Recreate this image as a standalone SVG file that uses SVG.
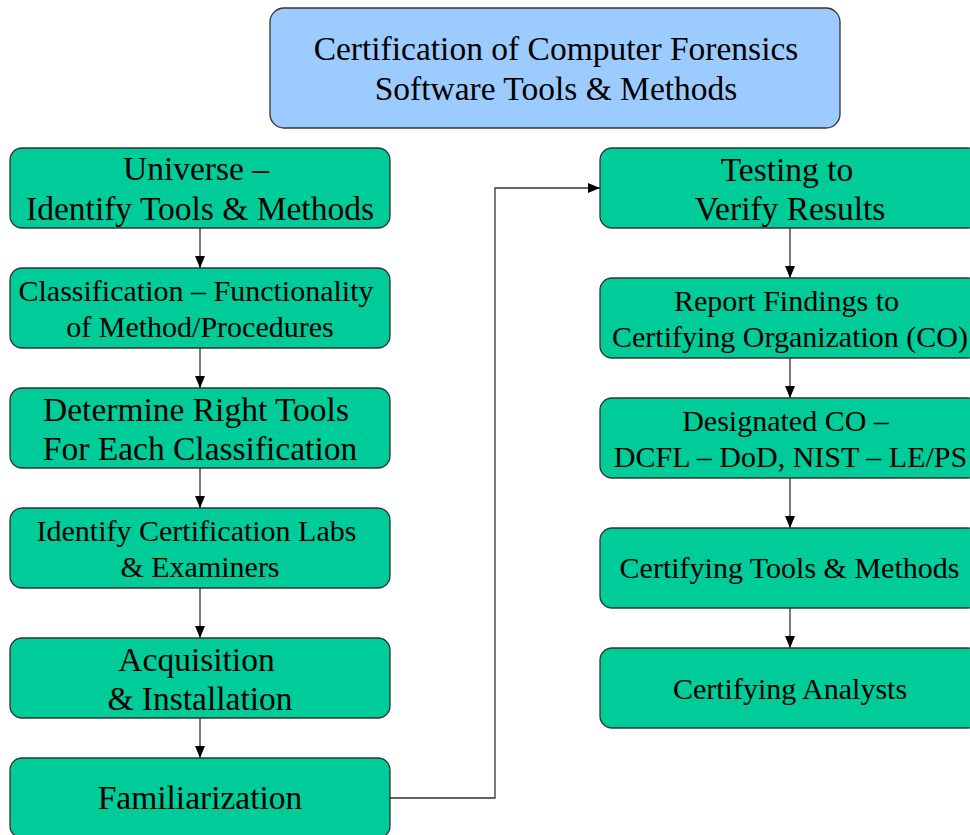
<svg xmlns="http://www.w3.org/2000/svg" width="970" height="835" viewBox="0 0 970 835">
<defs>
<marker id="ah" markerWidth="12" markerHeight="10" refX="12" refY="5" orient="auto" markerUnits="userSpaceOnUse">
<path d="M0,0 L12,5 L0,10 Z" fill="#000"/>
</marker>
<style>
.b{fill:#00CC99;stroke:#333;stroke-width:1.3}
.t{fill:#9CCCFF;stroke:#333;stroke-width:1.3}
text{font-family:"Liberation Serif","Times New Roman",serif;fill:#000;text-anchor:middle}
.L{font-size:33.5px}
.S{font-size:30px}
.c{fill:none;stroke:#333;stroke-width:1.3}
</style>
</defs>
<rect width="970" height="835" fill="#fff"/>
<g id="title"><rect class="t" x="270" y="8" width="570" height="120" rx="14"/>
<text class="L" x="556" y="60">Certification of Computer Forensics</text>
<text class="L" x="556" y="100">Software Tools &amp; Methods</text></g>
<g id="connectors">
<line class="c" x1="200" y1="228" x2="200" y2="268" marker-end="url(#ah)"/>
<line class="c" x1="200" y1="348" x2="200" y2="388" marker-end="url(#ah)"/>
<line class="c" x1="200" y1="468" x2="200" y2="508" marker-end="url(#ah)"/>
<line class="c" x1="200" y1="588" x2="200" y2="638" marker-end="url(#ah)"/>
<line class="c" x1="200" y1="718" x2="200" y2="758" marker-end="url(#ah)"/>
<polyline class="c" points="390,798 495,798 495,188 600,188" marker-end="url(#ah)"/>
<line class="c" x1="790" y1="228" x2="790" y2="278" marker-end="url(#ah)"/>
<line class="c" x1="790" y1="358" x2="790" y2="398" marker-end="url(#ah)"/>
<line class="c" x1="790" y1="478" x2="790" y2="528" marker-end="url(#ah)"/>
<line class="c" x1="790" y1="608" x2="790" y2="648" marker-end="url(#ah)"/>
</g>
<g id="n1"><rect class="b" x="10" y="148" width="380" height="80" rx="12"/>
<text class="L" x="196" y="180">Universe –</text>
<text class="L" x="200" y="220">Identify Tools &amp; Methods</text></g>
<g id="n2"><rect class="b" x="10" y="268" width="380" height="80" rx="12"/>
<text class="S" x="196" y="301">Classification – Functionality</text>
<text class="S" x="200" y="337">of Method/Procedures</text></g>
<g id="n3"><rect class="b" x="10" y="388" width="380" height="80" rx="12"/>
<text class="L" x="196" y="421">Determine Right Tools</text>
<text class="L" x="200" y="460">For Each Classification</text></g>
<g id="n4"><rect class="b" x="10" y="508" width="380" height="80" rx="12"/>
<text class="S" x="196.5" y="541">Identify Certification Labs</text>
<text class="S" x="200" y="577">&amp; Examiners</text></g>
<g id="n5"><rect class="b" x="10" y="638" width="380" height="80" rx="12"/>
<text class="L" x="196.5" y="671">Acquisition</text>
<text class="L" x="200" y="710">&amp; Installation</text></g>
<g id="n6"><rect class="b" x="10" y="758" width="380" height="80" rx="12"/>
<text class="L" x="200" y="809">Familiarization</text></g>
<g id="n7"><rect class="b" x="600" y="148" width="380" height="80" rx="12"/>
<text class="L" x="787" y="181">Testing to</text>
<text class="L" x="790" y="220">Verify Results</text></g>
<g id="n8"><rect class="b" x="600" y="278" width="380" height="80" rx="12"/>
<text class="S" x="786.5" y="311">Report Findings to</text>
<text class="S" x="790" y="347">Certifying Organization (CO)</text></g>
<g id="n9"><rect class="b" x="600" y="398" width="380" height="80" rx="12"/>
<text class="S" x="785.5" y="431">Designated CO –</text>
<text class="S" x="790.5" y="467">DCFL – DoD, NIST – LE/PS</text></g>
<g id="n10"><rect class="b" x="600" y="528" width="380" height="80" rx="12"/>
<text class="S" x="789.5" y="578">Certifying Tools &amp; Methods</text></g>
<g id="n11"><rect class="b" x="600" y="648" width="380" height="80" rx="12"/>
<text class="S" x="790" y="699">Certifying Analysts</text></g>
</svg>
